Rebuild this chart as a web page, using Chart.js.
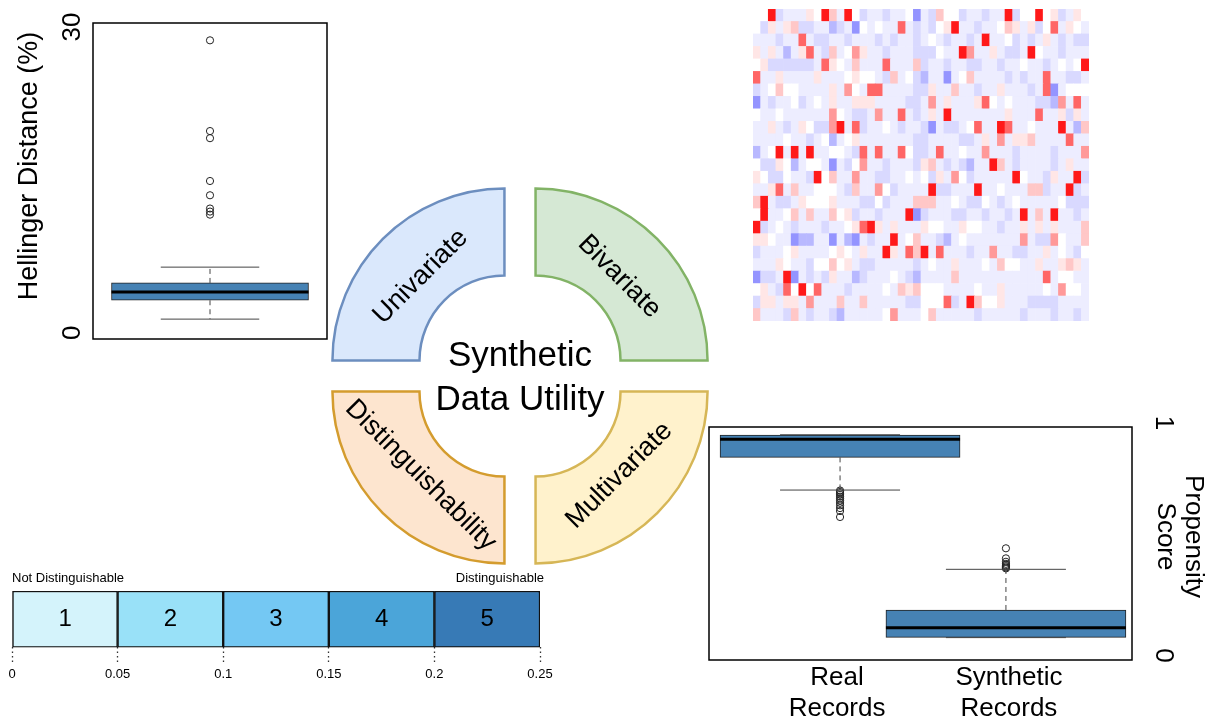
<!DOCTYPE html>
<html>
<head>
<meta charset="utf-8">
<title>Synthetic Data Utility</title>
<script src="https://cdn.jsdelivr.net/npm/chart.js@4.4.1/dist/chart.umd.min.js"></script>
<style>
  html, body { margin: 0; padding: 0; background: #fff; }
  body { width: 1214px; height: 724px; position: relative; overflow: hidden; }
  canvas { position: absolute; }
  #heatmap { filter: blur(0.7px); }
</style>
</head>
<body>
<canvas id="hellinger" width="340" height="350" style="left:0;top:0"></canvas>
<canvas id="heatmap" width="336" height="312" style="left:753px;top:9px"></canvas>
<canvas id="wheel" width="400" height="400" style="left:320px;top:176px"></canvas>
<canvas id="scale" width="560" height="132" style="left:0;top:560px"></canvas>
<canvas id="propensity" width="514" height="314" style="left:700px;top:410px"></canvas>
<script>
const FONT = "'Liberation Sans', Arial, Helvetica, sans-serif";

// top left: hellinger distance box plot (%)
const hellingerLabels = ['Hellinger'];
const hellingerQ1 = [3.2];
const hellingerMedian = [4.0];
const hellingerQ3 = [4.9];
const hellingerLow = [1.35];
const hellingerHigh = [6.45];
const hellingerOutliers = [11.6, 11.9, 12.2, 13.5, 14.9, 19.1, 19.8, 28.7];
const hellingerTicks = [0, 30];
const hellingerTitle = 'Hellinger Distance (%)';

// top right: correlation difference heatmap, one letter per cell
const heatLevels = { W: 0, '.': -0.07, c: -0.15, b: -0.28, B: -0.42, q: 0.1, p: 0.22, m: 0.4, r: 0.6, R: 0.9 };
const heatRows = [
  'WWRc...qWRp.RWc..c..WB.cpWWc..c..RcWWRWqc.qW',
  'Wcq.qpcc..bc.BW.W..r.c.cWqR..c..Wpq.qcWr.qW.',
  '...c..r.cc..c...c.c..c.W.c..c.R..Wc.c.q.c.cc',
  'q.q.b.qr.cp.Wmq..c...cccW..Rm..q.cc.RW..c...',
  'Wqcccccc.rqW.p...r...pc..c..cc..c..W..c.W.WR',
  'r..q....q...WqWW.cp.Wcb..B.Wp....c.c..r..cc.',
  'c.WpWW....q.mW.rr....ccq..p..c..q...c.rB.WWW',
  'B.c..Wc.W.q..qqq....cc.m.q...qrW.W...ccbm.r.',
  'W..W......mW.cc.m..r.c.q.R.......q...r..qcq.',
  '..q.c.qWccmR.rc..W.c..cB.cc.Wr..Rr..W...R.bp',
  '....W..c.Wb.Wq.......cc....cc.q.m.qqp....r..',
  'b.WR.R.R..WW.cr.r..rWcc.r..W..m...c....c...m',
  'WccqWb.WW.B.cWm..c...cqp.c.cb..Rp.c....c.q..',
  'qWccW..cRWp..m..cc..W.Wcq.mWc.....RW..cq..Rc',
  '..qr.p..WWW.cp..mWc....Rcc...R..W...ppc..Rc.',
  'pR.cc.qWWWq...ccWc...ppp..W.ccW.c.W.....Wccc',
  'WR..Wp.p..pWqc..c...RBc...cc..c..c.R.p.R..c.',
  'Rc.W.c...c..WqrRq.q...qWW..qWW..c..q.q.q...p',
  'qqW..Bbb..B.bB.c..R.Wp..cb.W.......m.ccmW..p',
  'c...Wq....WqW.q..Rq.rpR.r...c..m..cc..q.W.cW',
  '...qW..cWWpWq.cc.....c.W..q...W.pWW..q..qpq.',
  'Bcc.RB.c.cq..bc...W.cb....p...........r.WW..',
  'Wq.crWRWr...c....W.pqpWWW....W..q.....W.mWW.',
  'cqq.qq.m...p..p.....ccWWWrc.RpWWq...cccc....',
  'p...cp.c..cb.....Wm...Wp.....c.....c...c..c.'
];

// centre: utility wheel
const wheelNames = ['Bivariate', 'Multivariate', 'Distinguishability', 'Univariate'];
const wheelShares = [1, 1, 1, 1];
const wheelFill = ['#d5e8d4', '#fff2cc', '#fde5cf', '#dae8fc'];
const wheelEdge = ['#82b366', '#d6b656', '#d49c2e', '#6c8ebf'];
const centreLines = ['Synthetic', 'Data Utility'];

// bottom left: distinguishability scale
const scaleLevels = ['1', '2', '3', '4', '5'];
const scaleWidths = [0.05, 0.05, 0.05, 0.05, 0.05];
const scaleTicks = [0, 0.05, 0.1, 0.15, 0.2, 0.25];
const scaleColours = ['#d4f3fb', '#99e1f8', '#74c8f3', '#4ba5d9', '#377ab6'];
const scaleEnds = ['Not Distinguishable', 'Distinguishable'];

// bottom right: propensity score box plot
const groupNames = [['Real', 'Records'], ['Synthetic', 'Records']];
const groupPos = [1, 2];
const propQ1 = [0.867, 0.079];
const propMedian = [0.946, 0.121];
const propQ3 = [0.965, 0.199];
const propLow = [0.724, 0.078];
const propHigh = [0.966, 0.377];
const realOutliers = [0.722, 0.716, 0.71, 0.703, 0.695, 0.687, 0.678, 0.668, 0.657, 0.645, 0.632, 0.606];
const synthOutliers = [0.381, 0.385, 0.39, 0.395, 0.401, 0.41, 0.425, 0.469];
const propTicks = [0, 1];
const propTitle = ['Propensity', 'Score'];

const quiet = { legend: { display: false }, tooltip: { enabled: false } };

function heatColour(v) {
  const k = Math.round(255 * (1 - Math.abs(v)));
  return v < 0 ? `rgb(${k},${k},255)` : `rgb(255,${k},${k})`;
}

// median, whiskers, caps and frame for a box drawn as a floating bar
function boxExtras(id, q1, med, q3, lo, hi) {
  return {
    id,
    afterDatasetsDraw(chart) {
      const { ctx, scales: { y } } = chart;
      const bars = chart.getDatasetMeta(0).data;
      ctx.save();
      bars.forEach((bar, i) => {
        const { x, width } = bar.getProps(['x', 'width'], true);
        const cap = width / 4;
        ctx.strokeStyle = '#444';
        ctx.lineWidth = 1;
        ctx.setLineDash([5, 4]);
        ctx.beginPath();
        ctx.moveTo(x, y.getPixelForValue(q3[i]));
        ctx.lineTo(x, y.getPixelForValue(hi[i]));
        ctx.moveTo(x, y.getPixelForValue(q1[i]));
        ctx.lineTo(x, y.getPixelForValue(lo[i]));
        ctx.stroke();
        ctx.setLineDash([]);
        ctx.beginPath();
        [lo[i], hi[i]].forEach(v => {
          const py = y.getPixelForValue(v);
          ctx.moveTo(x - cap, py);
          ctx.lineTo(x + cap, py);
        });
        ctx.stroke();
        const pm = y.getPixelForValue(med[i]);
        ctx.strokeStyle = '#000';
        ctx.lineWidth = 3;
        ctx.beginPath();
        ctx.moveTo(x - width / 2, pm);
        ctx.lineTo(x + width / 2, pm);
        ctx.stroke();
      });
      const a = chart.chartArea;
      ctx.lineWidth = 1.5;
      ctx.strokeStyle = '#000';
      ctx.strokeRect(a.left, a.top, a.right - a.left, a.bottom - a.top);
      ctx.restore();
    }
  };
}

function rotatedText(ctx, text, x, y, angle) {
  ctx.save();
  ctx.translate(x, y);
  ctx.rotate(angle);
  ctx.fillText(text, 0, 0);
  ctx.restore();
}

// ---------- hellinger box plot ----------
const hellingerText = {
  id: 'hellingerText',
  afterDraw(chart) {
    const { ctx, scales: { y } } = chart;
    ctx.save();
    ctx.fillStyle = '#000';
    ctx.textAlign = 'center';
    ctx.textBaseline = 'middle';
    ctx.font = `26px ${FONT}`;
    hellingerTicks.forEach(v => rotatedText(ctx, String(v), 73, y.getPixelForValue(v), -Math.PI / 2));
    ctx.font = `27px ${FONT}`;
    rotatedText(ctx, hellingerTitle, 30, 166, -Math.PI / 2);
    ctx.restore();
  }
};

new Chart(document.getElementById('hellinger'), {
  type: 'bar',
  data: {
    labels: hellingerLabels,
    datasets: [
      {
        data: [[hellingerQ1[0], hellingerQ3[0]]],
        backgroundColor: '#4682b4',
        borderColor: '#222',
        borderWidth: 1,
        borderSkipped: false,
        barThickness: 197,
        order: 2
      },
      {
        type: 'scatter',
        data: hellingerOutliers.map(v => ({ x: hellingerLabels[0], y: v })),
        pointRadius: 3.6,
        pointBorderColor: '#222',
        pointBackgroundColor: 'rgba(0,0,0,0)',
        pointBorderWidth: 1,
        order: 1
      }
    ]
  },
  options: {
    responsive: false,
    animation: false,
    events: [],
    layout: { padding: { left: 93, right: 13, top: 23, bottom: 11 } },
    scales: {
      x: { display: false },
      y: { display: false, min: -0.6, max: 30.4 }
    },
    plugins: quiet
  },
  plugins: [boxExtras('hellBox', hellingerQ1, hellingerMedian, hellingerQ3, hellingerLow, hellingerHigh), hellingerText]
});

// ---------- heatmap ----------
const heatColumns = heatRows[0].split('').map((_, i) => i + 1);
new Chart(document.getElementById('heatmap'), {
  type: 'bar',
  data: {
    labels: heatColumns,
    datasets: heatRows.slice().reverse().map(row => ({
      data: heatColumns.map(() => 1),
      backgroundColor: row.split('').map(ch => heatColour(heatLevels[ch])),
      borderWidth: 0,
      barPercentage: 1,
      categoryPercentage: 1
    }))
  },
  options: {
    responsive: false,
    animation: false,
    events: [],
    layout: { padding: 0 },
    scales: {
      x: { display: false, stacked: true },
      y: { display: false, stacked: true, min: 0, max: heatRows.length }
    },
    plugins: quiet
  }
});

// ---------- utility wheel ----------
const wheelText = {
  id: 'wheelText',
  afterDatasetsDraw(chart) {
    const ctx = chart.ctx;
    const arcs = chart.getDatasetMeta(0).data;
    ctx.save();
    ctx.fillStyle = '#000';
    ctx.textAlign = 'center';
    ctx.textBaseline = 'middle';
    ctx.font = `27px ${FONT}`;
    arcs.forEach((arc, i) => {
      const p = arc.getProps(['x', 'y', 'startAngle', 'endAngle', 'innerRadius', 'outerRadius'], true);
      const mid = (p.startAngle + p.endAngle) / 2;
      const r = (p.innerRadius + p.outerRadius) / 2 + arc.options.offset / 4 - 10;
      const turn = Math.sin(mid) < 0 ? mid + Math.PI / 2 : mid - Math.PI / 2;
      rotatedText(ctx, chart.data.labels[i], p.x + Math.cos(mid) * r, p.y + Math.sin(mid) * r, turn);
    });
    const c = arcs[0];
    ctx.font = `35px ${FONT}`;
    ctx.textBaseline = 'alphabetic';
    ctx.fillText(centreLines[0], c.x, c.y - 10);
    ctx.fillText(centreLines[1], c.x, c.y + 34);
    ctx.restore();
  }
};

new Chart(document.getElementById('wheel'), {
  type: 'doughnut',
  data: {
    labels: wheelNames,
    datasets: [{
      data: wheelShares,
      backgroundColor: wheelFill,
      borderColor: wheelEdge,
      borderWidth: 2.5,
      borderJoinStyle: 'miter',
      offset: 88,
      hoverOffset: 0
    }]
  },
  options: {
    responsive: false,
    animation: false,
    events: [],
    radius: 172,
    cutout: '49.4%',
    layout: { padding: 0 },
    plugins: quiet
  },
  plugins: [wheelText]
});

// ---------- distinguishability scale ----------
const scaleText = {
  id: 'scaleText',
  afterDraw(chart) {
    const ctx = chart.ctx;
    const a = chart.chartArea;
    ctx.save();
    ctx.fillStyle = '#000';
    ctx.textBaseline = 'middle';
    ctx.textAlign = 'center';
    ctx.font = `24px ${FONT}`;
    scaleLevels.forEach((lv, i) => {
      const bar = chart.getDatasetMeta(i).data[0];
      const { x, y, base } = bar.getProps(['x', 'y', 'base'], true);
      ctx.fillText(lv, (x + base) / 2, y);
    });
    ctx.font = `13px ${FONT}`;
    ctx.textAlign = 'left';
    ctx.fillText(scaleEnds[0], a.left, a.top - 13);
    ctx.textAlign = 'right';
    ctx.fillText(scaleEnds[1], a.right + 4, a.top - 13);
    ctx.restore();
  }
};

new Chart(document.getElementById('scale'), {
  type: 'bar',
  data: {
    labels: [''],
    datasets: scaleLevels.map((lv, i) => ({
      label: lv,
      data: [scaleWidths[i]],
      backgroundColor: scaleColours[i],
      borderColor: '#111',
      borderWidth: 1.5,
      borderSkipped: false,
      barPercentage: 1,
      categoryPercentage: 1
    }))
  },
  options: {
    indexAxis: 'y',
    responsive: false,
    animation: false,
    events: [],
    layout: { padding: { left: 12, right: 20, top: 31, bottom: 6 } },
    scales: {
      x: {
        stacked: true,
        min: 0,
        max: 0.25,
        afterBuildTicks: s => { s.ticks = scaleTicks.map(v => ({ value: v })); },
        border: { display: false },
        grid: { drawOnChartArea: false, drawTicks: true, tickLength: 15, tickColor: '#333', tickWidth: 1.3, tickBorderDash: [1.5, 3] },
        ticks: { padding: 4, color: '#000', maxRotation: 0, autoSkip: false, font: { size: 13, family: FONT }, callback: v => String(v) }
      },
      y: { stacked: true, display: false }
    },
    plugins: quiet
  },
  plugins: [scaleText]
});

// ---------- propensity score box plot ----------
const propText = {
  id: 'propText',
  afterDraw(chart) {
    const { ctx, chartArea: a, scales: { x, y } } = chart;
    ctx.save();
    ctx.fillStyle = '#000';
    ctx.textAlign = 'center';
    ctx.textBaseline = 'middle';
    ctx.font = `26px ${FONT}`;
    propTicks.forEach(v => rotatedText(ctx, String(v), a.right + 31, y.getPixelForValue(v) - (v === 1 ? 4 : 0), Math.PI / 2));
    const ty = (a.top + a.bottom) / 2 - 7;
    rotatedText(ctx, propTitle[0], a.right + 61, ty, Math.PI / 2);
    rotatedText(ctx, propTitle[1], a.right + 33, ty, Math.PI / 2);
    groupNames.forEach((lines, i) => {
      const px = x.getPixelForValue(groupPos[i]);
      ctx.fillText(lines[0], px - 3 + 6 * i, a.bottom + 18);
      ctx.fillText(lines[1], px - 3 + 6 * i, a.bottom + 49);
    });
    ctx.restore();
  }
};

new Chart(document.getElementById('propensity'), {
  type: 'bar',
  data: {
    datasets: [
      {
        data: groupPos.map((g, i) => ({ x: g, y: [propQ1[i], propQ3[i]] })),
        backgroundColor: '#4682b4',
        borderColor: '#222',
        borderWidth: 1,
        borderSkipped: false,
        barThickness: 240,
        order: 2
      },
      {
        type: 'scatter',
        data: realOutliers.map(v => ({ x: groupPos[0], y: v }))
          .concat(synthOutliers.map(v => ({ x: groupPos[1], y: v }))),
        pointRadius: 3.6,
        pointBorderColor: '#222',
        pointBackgroundColor: 'rgba(0,0,0,0)',
        pointBorderWidth: 1,
        order: 1
      }
    ]
  },
  options: {
    responsive: false,
    animation: false,
    events: [],
    layout: { padding: { left: 9, right: 82, top: 17, bottom: 64 } },
    scales: {
      x: { type: 'linear', display: false, offset: false, min: 0.21, max: 2.76 },
      y: { display: false, min: -0.02, max: 1.0 }
    },
    plugins: quiet
  },
  plugins: [boxExtras('propBox', propQ1, propMedian, propQ3, propLow, propHigh), propText]
});
</script>
</body>
</html>
